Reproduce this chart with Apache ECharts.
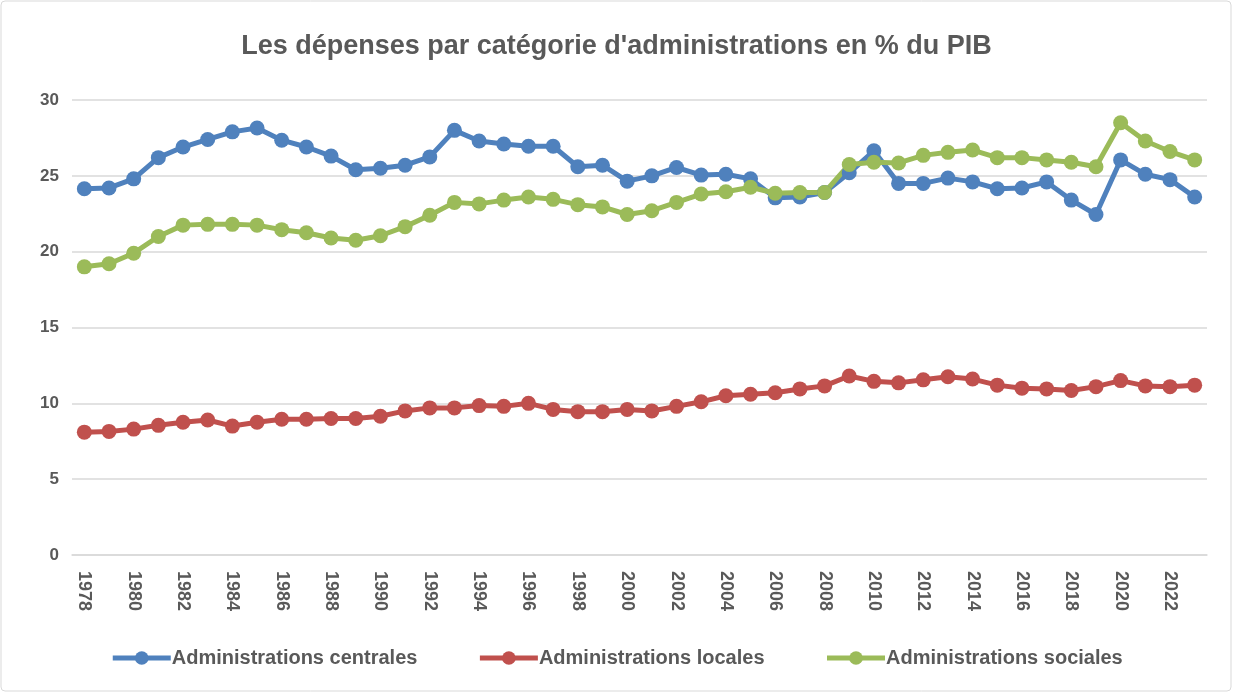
<!DOCTYPE html>
<html>
<head>
<meta charset="utf-8">
<script src="https://cdn.jsdelivr.net/npm/echarts@6/dist/echarts.min.js"></script>
<style>
  html, body { margin: 0; padding: 0; background: #fff; }
  #chart { width: 1233px; height: 693px; }
</style>
</head>
<body>
<div id="chart"></div>
<script>
const years = []
for (let y = 1978; y <= 2023; y++) years.push(String(y))

const centrales = [
    24.15, 24.2, 24.8, 26.2, 26.9, 27.4, 27.9, 28.15, 27.35, 26.9,
    26.3, 25.4, 25.5, 25.7, 26.25, 28.0, 27.3, 27.1, 26.95, 26.95,
    25.6, 25.7, 24.65, 25.0, 25.55, 25.05, 25.1, 24.8, 23.55, 23.6,
    23.9, 25.2, 26.65, 24.5, 24.5, 24.85, 24.6, 24.15, 24.2, 24.6,
    23.4, 22.45, 26.05, 25.1, 24.75, 23.6
]
const locales = [
    8.1, 8.15, 8.3, 8.55, 8.75, 8.9, 8.5, 8.75, 8.95, 8.95,
    9.0, 9.0, 9.15, 9.5, 9.7, 9.7, 9.85, 9.8, 10.0, 9.6,
    9.45, 9.45, 9.6, 9.5, 9.8, 10.1, 10.5, 10.6, 10.7, 10.95,
    11.15, 11.8, 11.45, 11.35, 11.55, 11.75, 11.6, 11.2, 11.0, 10.95,
    10.85, 11.1, 11.5, 11.15, 11.1, 11.2
]
const sociales = [
    19.0, 19.2, 19.9, 21.0, 21.75, 21.8, 21.8, 21.75, 21.45, 21.25,
    20.9, 20.75, 21.05, 21.65, 22.4, 23.25, 23.15, 23.4, 23.6, 23.45,
    23.1, 22.95, 22.45, 22.7, 23.25, 23.8, 23.95, 24.25, 23.85, 23.9,
    23.9, 25.75, 25.9, 25.85, 26.35, 26.55, 26.7, 26.2, 26.2, 26.05,
    25.9, 25.6, 28.5, 27.3, 26.6, 26.05
]

const font = "'Liberation Sans', Arial, sans-serif"
const grey = '#595959'

function line(name, data, color) {
    return {
        name, data, type: 'line',
        symbol: 'circle', symbolSize: 15,
        lineStyle: { width: 5, color },
        itemStyle: { color },
        z: 2
    }
}

const chart = echarts.init(document.getElementById('chart'))
chart.setOption({
    animation: false,
    graphic: [{
        type: 'rect',
        shape: { x: 1, y: 1, width: 1230, height: 690, r: 4 },
        style: { fill: 'none', stroke: '#d9d9d9', lineWidth: 1 }
    }],
    title: {
        text: "Les dépenses par catégorie d'administrations en % du PIB",
        left: 'center', top: 28,
        textStyle: { fontFamily: font, fontSize: 27, fontWeight: 'bold', color: grey }
    },
    grid: { left: 72, right: 26, top: 100, bottom: 138 },
    xAxis: {
        type: 'category',
        data: years,
        boundaryGap: true,
        axisLine: { lineStyle: { color: '#d9d9d9', width: 1.5 } },
        axisTick: { show: false },
        axisLabel: {
            rotate: -90, interval: 1, margin: 16,
            fontFamily: font, fontSize: 18, fontWeight: 'bold', color: grey
        }
    },
    yAxis: {
        type: 'value', min: 0, max: 30, interval: 5,
        axisLine: { show: false },
        axisTick: { show: false },
        splitLine: { lineStyle: { color: '#d9d9d9', width: 1.5 } },
        axisLabel: { margin: 13, fontFamily: font, fontSize: 17, fontWeight: 'bold', color: grey }
    },
    legend: {
        bottom: 20, left: 'center',
        itemWidth: 58, itemHeight: 17, itemGap: 60,
        lineStyle: { width: 5 },
        textStyle: { fontFamily: font, fontSize: 20, fontWeight: 'bold', color: grey, padding: [0, 0, 0, -4] }
    },
    series: [
        line('Administrations centrales', centrales, '#4F81BD'),
        line('Administrations locales', locales, '#C0504D'),
        line('Administrations sociales', sociales, '#9BBB59')
    ]
})
</script>
</body>
</html>
